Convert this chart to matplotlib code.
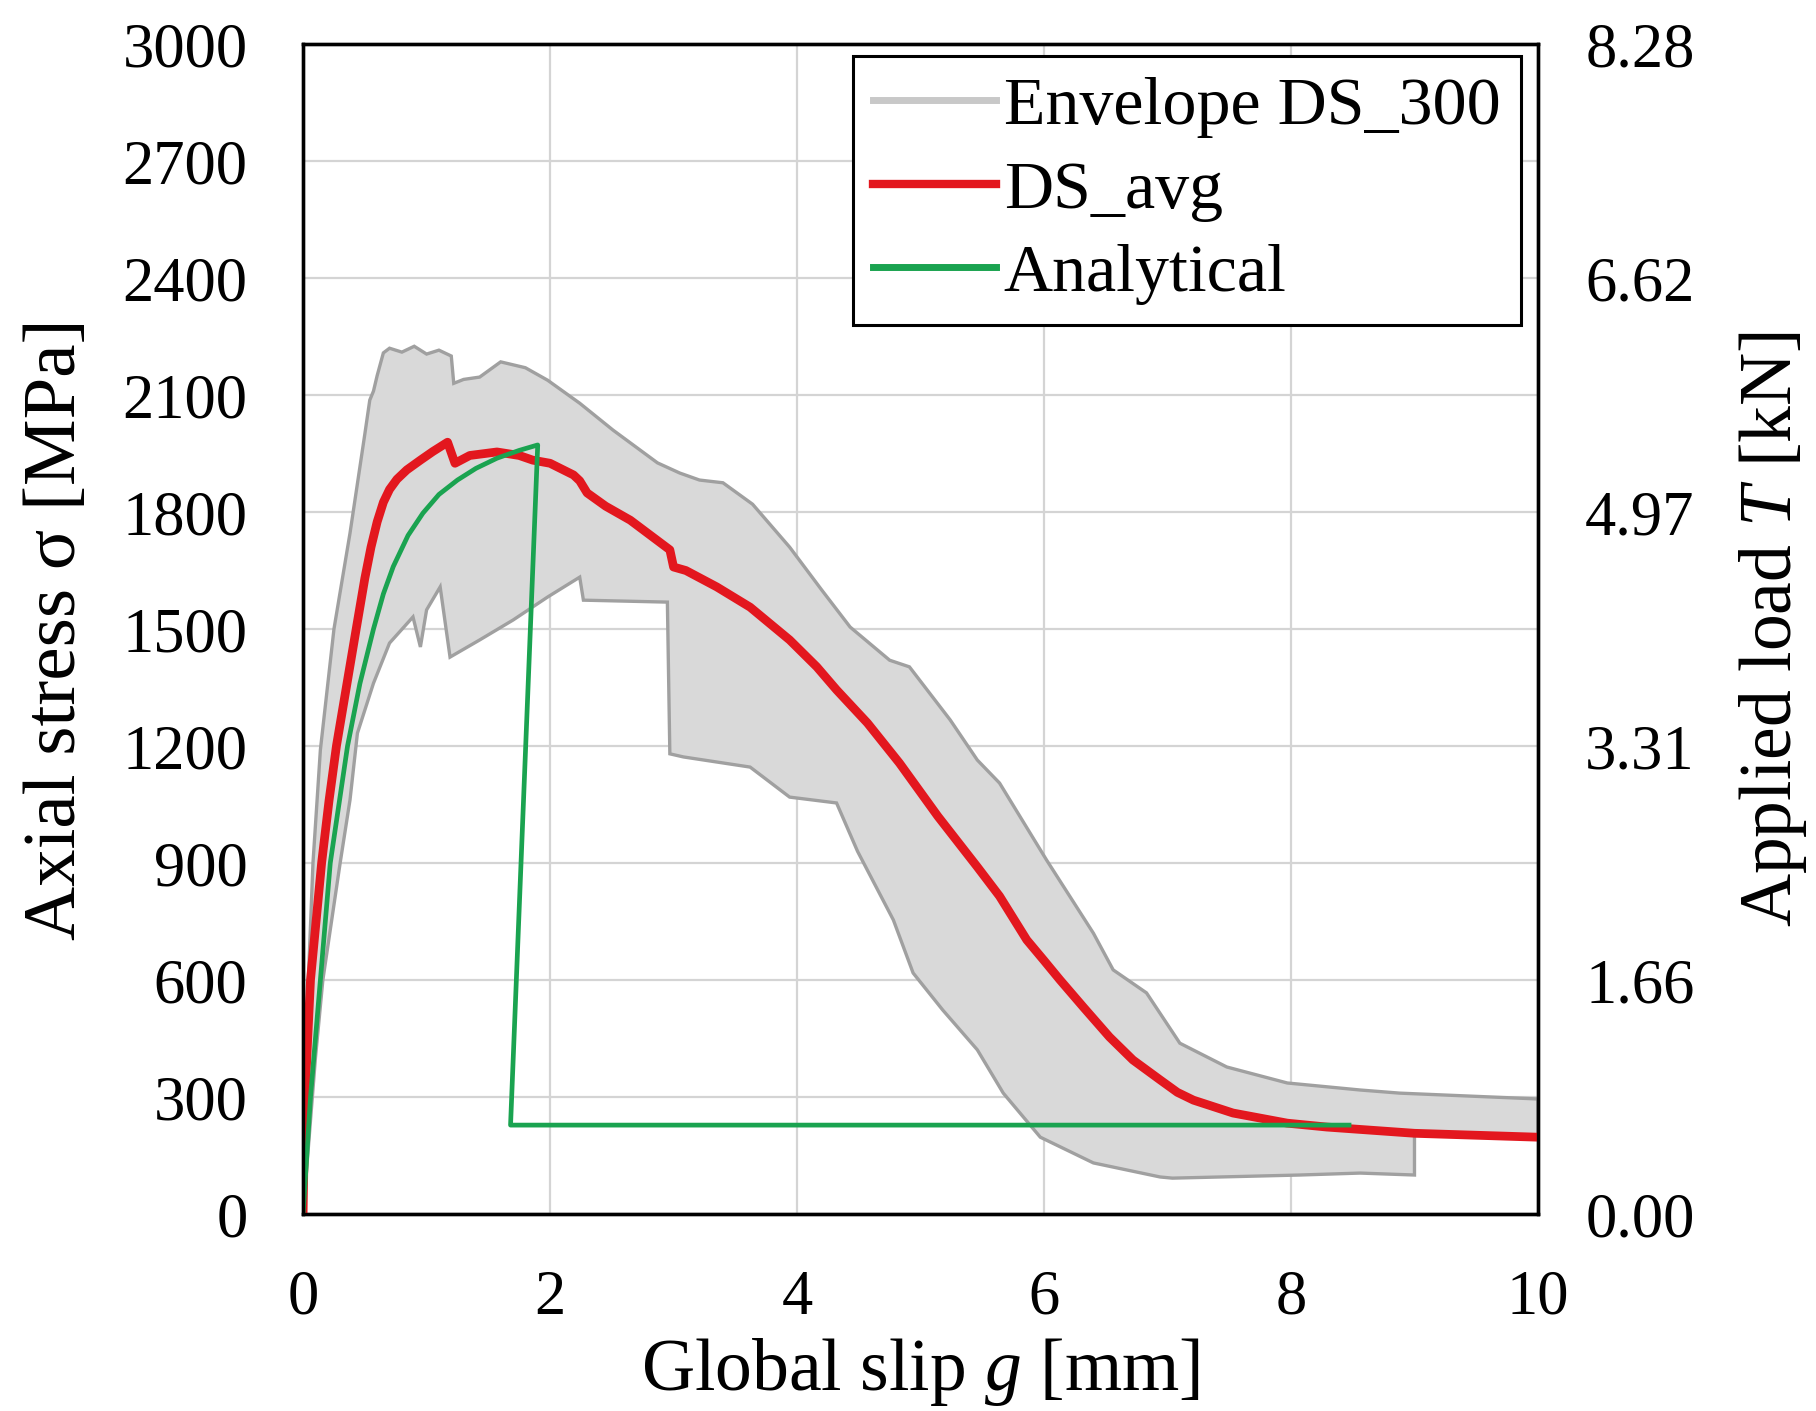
import numpy as np
import matplotlib
matplotlib.use("Agg")
import matplotlib.pyplot as plt
from matplotlib.lines import Line2D

plt.rcParams['font.family'] = ['Liberation Serif', 'DejaVu Serif']
plt.rcParams['mathtext.fontset'] = 'custom'
plt.rcParams['mathtext.rm'] = 'Liberation Serif'
plt.rcParams['mathtext.it'] = 'Liberation Serif:italic'

# DS_avg curve (global slip [mm], axial stress [MPa])
avg_g = [0, 0.015, 0.06, 0.15, 0.21, 0.27, 0.35, 0.43, 0.50, 0.55, 0.60, 0.65,
         0.70, 0.76, 0.84, 0.95, 1.05, 1.17, 1.23, 1.35, 1.57, 1.75, 1.86, 2.0,
         2.19, 2.24, 2.30, 2.45, 2.65, 2.81, 2.97, 3.0, 3.1, 3.35, 3.62, 3.94,
         4.16, 4.32, 4.57, 4.83, 5.14, 5.46, 5.64, 5.86, 6.0, 6.13, 6.32, 6.53,
         6.72, 6.94, 7.08, 7.21, 7.53, 7.75, 7.97, 8.29, 9.0, 10]
avg_s = [0, 300, 600, 900, 1060, 1200, 1350, 1500, 1630, 1710, 1775, 1825,
         1858, 1884, 1908, 1933, 1955, 1979, 1925, 1945, 1954, 1945, 1933, 1925,
         1895, 1880, 1849, 1815, 1779, 1741, 1703, 1659, 1650, 1608, 1556, 1472,
         1403, 1344, 1259, 1156, 1020, 890, 815, 703, 650, 600, 530, 454,
         395, 344, 312, 292, 259, 246, 233, 223, 207, 197]

# Analytical curve
ana_g = [0, 0.06, 0.14, 0.22, 0.36, 0.46, 0.57, 0.65, 0.73, 0.85, 0.97, 1.1,
         1.25, 1.4, 1.57, 1.75, 1.90, 1.68, 8.47]
ana_s = [0, 300, 600, 900, 1200, 1360, 1500, 1590, 1660, 1740, 1797, 1845,
         1882, 1912, 1938, 1958, 1972, 228, 228]

# Envelope DS_300 - upper bound
env_up_g = [0, 0.03, 0.08, 0.14, 0.25, 0.38, 0.50, 0.54, 0.57, 0.60, 0.65, 0.70,
            0.80, 0.90, 1.0, 1.1, 1.2, 1.22, 1.3, 1.43, 1.6, 1.8, 1.98, 2.24,
            2.51, 2.87, 3.05, 3.21, 3.40, 3.64, 3.94, 4.2, 4.43, 4.75, 4.91,
            5.24, 5.46, 5.64, 6.02, 6.40, 6.56, 6.83, 7.10, 7.48, 7.97, 8.56,
            8.88, 10]
env_up_s = [0, 500, 900, 1190, 1500, 1746, 2000, 2087, 2110, 2150, 2208, 2220,
            2210, 2225, 2205, 2215, 2200, 2130, 2140, 2146, 2185, 2170, 2138, 2079,
            2010, 1926, 1900, 1882, 1875, 1820, 1710, 1600, 1505, 1420, 1403,
            1267, 1164, 1105, 908, 720, 626, 567, 438, 377, 336, 318,
            310, 295]

# Envelope DS_300 - lower bound
env_lo_g = [0, 0.1, 0.16, 0.3, 0.38, 0.44, 0.57, 0.70, 0.89, 0.95, 1.0, 1.11,
            1.19, 1.43, 1.70, 1.98, 2.24, 2.27, 2.95, 2.97, 3.08, 3.62, 3.94,
            4.32, 4.49, 4.78, 4.94, 5.18, 5.46, 5.67, 5.97, 6.40, 6.94, 7.04,
            8.07, 8.56, 9.0, 9.0, 10]
env_lo_s = [0, 400, 600, 900, 1062, 1233, 1361, 1464, 1531, 1454, 1549, 1608,
            1428, 1472, 1523, 1582, 1633, 1574, 1569, 1180, 1172, 1146, 1069,
            1054, 930, 754, 618, 523, 421, 310, 197, 131, 95, 92,
            100, 105, 100, 207, 197]

load_max = 8.28  # kN at 3000 MPa

fig = plt.figure(figsize=(18.16, 14.11), dpi=100)
ax = fig.add_axes([0.1669, 0.1396, 0.68, 0.8292])

# envelope as closed polygon
poly_g = np.concatenate([env_up_g, env_lo_g[::-1]])
poly_s = np.concatenate([env_up_s, env_lo_s[::-1]])
ax.fill(poly_g, poly_s, facecolor='#d9d9d9', edgecolor='#a0a0a0',
        linewidth=2.4, zorder=2)

ax.plot(avg_g, avg_s, color='#e3171e', linewidth=6.3, zorder=3,
        solid_joinstyle='round')
ax.plot(ana_g, ana_s, color='#1aa350', linewidth=3.4, zorder=4)

ax.set_xlim(0, 10)
ax.set_ylim(0, 3000)
ax.set_xticks(np.arange(0, 11, 2))
ax.set_yticks(np.arange(0, 3001, 300))
ax.grid(True, color='#d4d4d4', linewidth=1.6, zorder=0)
ax.set_axisbelow(True)
ax.tick_params(axis='both', length=0, labelsize=45)
ax.tick_params(axis='x', pad=40)
ax.tick_params(axis='y', pad=40)
for sp in ax.spines.values():
    sp.set_linewidth(2.4)
    sp.set_color('black')

ax.set_xlabel('Global slip $g$ [mm]', fontsize=53)
ax.xaxis.set_label_coords(0.5, -0.104)
ax.set_ylabel('Axial stress σ [MPa]', fontsize=54)
ax.yaxis.set_label_coords(-0.199, 0.5)
ax.yaxis.label.set_va('center')

ax2 = ax.twinx()
ax2.set_ylim(0, load_max)
ax2.set_yticks(np.linspace(0, load_max, 6))
ax2.set_yticklabels(['%.2f' % v for v in np.linspace(0, load_max, 6)])
ax2.tick_params(axis='y', length=0, labelsize=45, pad=34)
for sp in ax2.spines.values():
    sp.set_linewidth(2.4)
ax2.set_ylabel('Applied load $T$ [kN]', fontsize=53)
ax2.yaxis.set_label_coords(1.19, 0.5)
ax2.yaxis.label.set_va('center')

handles = [Line2D([], [], color='#c8c8c8', linewidth=5),
           Line2D([], [], color='#e3171e', linewidth=6),
           Line2D([], [], color='#1aa350', linewidth=5)]
labels = ['Envelope DS_300', 'DS_avg', 'Analytical']
leg = ax2.legend(handles, labels, loc='upper right',
                 bbox_to_anchor=(0.9862, 0.9897), borderaxespad=0,
                 fontsize=49, fancybox=False, framealpha=1,
                 edgecolor='black', handlelength=1.8, handletextpad=0.12,
                 labelspacing=0.32, borderpad=0.3)
leg.get_frame().set_linewidth(2.2)

fig.savefig('out.png', dpi=100, facecolor='white')
